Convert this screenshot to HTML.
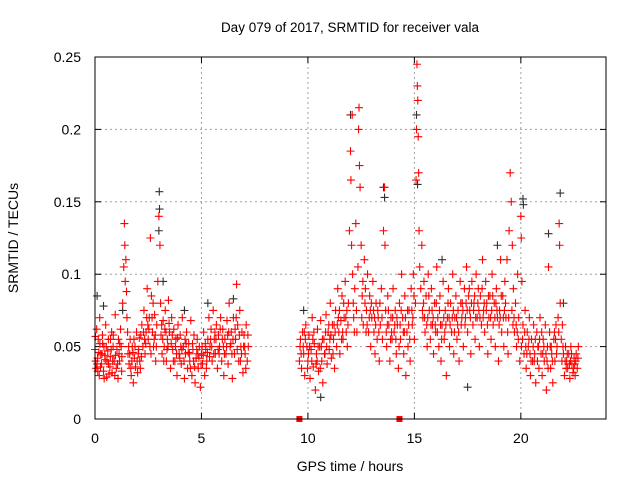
<!DOCTYPE html>
<html><head><meta charset="utf-8"><style>
body{margin:0;background:#fff}
svg{display:block;font-family:"Liberation Sans",sans-serif}
</style></head><body>
<svg id="chart" width="640" height="480" xmlns="http://www.w3.org/2000/svg">
<rect width="640" height="480" fill="#fff"/>
<text x="350" y="32" font-size="13.5" text-anchor="middle">Day 079 of 2017, SRMTID for receiver vala</text>
<text x="350" y="471" font-size="14" text-anchor="middle">GPS time / hours</text>
<text transform="translate(18,238) rotate(-90)" font-size="14" text-anchor="middle">SRMTID / TECUs</text>
<g id="grid"></g>
<g id="axes"></g>
<g id="black"></g>
<g id="red"></g>
<rect x="95" y="57" width="511" height="362" fill="none" stroke="#000" stroke-width="1"/>
</svg>
<script>
const xTicks=[0,5,10,15,20];
const yTicks=[0,0.05,0.1,0.15,0.2,0.25];
const yTickLabels=["0","0.05","0.1","0.15","0.2","0.25"];
const blackPoints=[[0.1,.085],[0.4,.078],[1.3,.075],[3.02,.157],[3.03,.145],[3.0,.13],[3.2,.095],[4.2,.075],[5.3,.08],[6.5,.083],[9.8,.075],[10.6,.015],[12.0,.21],[13.55,.16],[13.6,.153],[15.1,.21],[15.15,.162],[16.3,.11],[17.5,.022],[18.9,.12],[20.1,.152],[20.12,.148],[21.3,.128],[21.85,.156],[22.0,.08]];
const redPoints=[[0,.048],[.05,.035],[.08,.062],[.12,.042],[.15,.055],[.2,.03],[.22,.07],[.27,.045],[.3,.038],[.35,.058],[.4,.033],[.42,.05],[.48,.041],[.5,.065],[.55,.029],[.6,.047],[.63,.055],[.7,.036],[.72,.043],[.78,.06],[.8,.032],[.85,.05],[.9,.04],[.95,.072],[1,.035],[1.03,.048],[1.08,.028],[1.1,.055],[1.15,.04],[1.2,.062],[1.25,.033],[1.3,.08],[1.35,.105],[1.38,.135],[1.4,.12],[1.42,.095],[1.45,.11],[1.48,.088],[1.5,.07],[1.55,.045],[1.6,.038],[1.65,.055],[1.7,.03],[1.75,.05],[1.8,.025],[1.85,.042],[1.9,.036],[1.95,.06],[2,.032],[2.05,.048],[2.1,.04],[2.15,.058],[2.2,.065],[2.25,.05],[2.3,.075],[2.35,.045],[2.4,.06],[2.45,.09],[2.5,.055],[2.55,.07],[2.6,.125],[2.65,.085],[2.7,.06],[2.75,.05],[2.8,.072],[2.85,.04],[2.9,.065],[2.95,.095],[3,.14],[3.05,.12],[3.08,.08],[3.1,.058],[3.15,.045],[3.2,.068],[3.25,.05],[3.3,.075],[3.35,.04],[3.4,.055],[3.45,.082],[3.5,.06],[3.55,.035],[3.6,.07],[3.65,.048],[3.7,.062],[3.75,.04],[3.8,.055],[3.85,.03],[3.9,.065],[3.95,.045],[4,.058],[4.05,.038],[4.1,.07],[4.15,.05],[4.2,.028],[4.25,.045],[4.3,.06],[4.35,.035],[4.4,.052],[4.45,.04],[4.5,.068],[4.55,.03],[4.6,.048],[4.65,.058],[4.7,.025],[4.75,.042],[4.8,.055],[4.85,.035],[4.9,.05],[4.95,.022],[5,.045],[5.05,.038],[5.1,.06],[5.15,.03],[5.2,.048],[5.25,.04],[5.3,.055],[5.35,.07],[5.4,.05],[5.45,.062],[5.5,.04],[5.55,.075],[5.6,.055],[5.65,.045],[5.7,.065],[5.75,.035],[5.8,.058],[5.85,.05],[5.9,.07],[5.95,.04],[6,.062],[6.05,.03],[6.1,.055],[6.15,.045],[6.2,.068],[6.25,.038],[6.3,.08],[6.35,.05],[6.4,.06],[6.45,.028],[6.5,.07],[6.55,.045],[6.6,.055],[6.65,.093],[6.7,.065],[6.75,.04],[6.8,.075],[6.85,.05],[6.9,.06],[6.95,.032],[7,.058],[7.05,.045],[7.1,.065],[7.15,.04],[7.2,.05],
[9.6,.04],[9.65,.055],[9.7,.035],[9.75,.06],[9.8,.045],[9.85,.03],[9.9,.065],[9.95,.05],[10,.04],[10.05,.058],[10.1,.028],[10.15,.048],[10.2,.07],[10.25,.036],[10.3,.052],[10.35,.02],[10.4,.045],[10.45,.062],[10.5,.033],[10.55,.05],[10.6,.068],[10.65,.04],[10.7,.025],[10.75,.055],[10.8,.045],[10.85,.072],[10.9,.038],[10.95,.06],[11,.048],[11.05,.08],[11.1,.042],[11.15,.065],[11.2,.055],[11.25,.035],[11.3,.075],[11.35,.05],[11.4,.09],[11.45,.06],[11.5,.045],[11.55,.068],[11.6,.085],[11.65,.055],[11.7,.07],[11.75,.095],[11.8,.06],[11.85,.05],[11.9,.08],[11.95,.13],[12,.185],[12.02,.165],[12.05,.12],[12.08,.21],[12.1,.1],[12.15,.07],[12.2,.09],[12.25,.135],[12.3,.06],[12.35,.105],[12.38,.2],[12.4,.215],[12.42,.175],[12.45,.16],[12.5,.12],[12.55,.085],[12.6,.065],[12.65,.11],[12.7,.09],[12.75,.075],[12.8,.1],[12.85,.06],[12.9,.085],[12.95,.05],[13,.07],[13.05,.095],[13.1,.06],[13.15,.045],[13.2,.08],[13.25,.055],[13.3,.07],[13.35,.04],[13.4,.065],[13.45,.09],[13.5,.055],[13.55,.13],[13.6,.16],[13.62,.12],[13.65,.075],[13.7,.05],[13.75,.085],[13.8,.065],[13.85,.04],[13.9,.07],[13.95,.055],[14,.09],[14.05,.06],[14.1,.075],[14.15,.045],[14.2,.065],[14.25,.035],[14.3,.08],[14.35,.055],[14.4,.1],[14.45,.07],[14.5,.045],[14.55,.085],[14.6,.03],[14.65,.06],[14.7,.05],[14.75,.075],[14.8,.04],[14.85,.09],[14.9,.065],[14.95,.1],[15,.055],[15.05,.08],[15.08,.165],[15.1,.2],[15.12,.245],[15.14,.23],[15.16,.22],[15.18,.195],[15.2,.17],[15.22,.13],[15.25,.105],[15.3,.09],[15.35,.12],[15.4,.07],[15.45,.095],[15.5,.06],[15.55,.085],[15.6,.05],[15.65,.1],[15.7,.075],[15.75,.055],[15.8,.09],[15.85,.065],[15.9,.045],[15.95,.08],[16,.06],[16.05,.105],[16.1,.07],[16.15,.05],[16.2,.085],[16.25,.04],[16.3,.065],[16.35,.095],[16.4,.055],[16.45,.075],[16.5,.03],[16.55,.07],[16.6,.09],[16.65,.05],[16.7,.08],[16.75,.06],[16.8,.1],[16.85,.045],[16.9,.07],[16.95,.085],[17,.055],[17.05,.075],[17.1,.04],[17.15,.095],[17.2,.065],[17.25,.08],[17.3,.05],[17.35,.09],[17.4,.07],[17.45,.105],[17.5,.06],[17.55,.085],[17.6,.075],[17.65,.045],[17.7,.095],[17.75,.065],[17.8,.08],[17.85,.055],[17.9,.1],[17.95,.07],[18,.09],[18.05,.05],[18.1,.085],[18.15,.065],[18.2,.11],[18.25,.075],[18.3,.06],[18.35,.095],[18.4,.08],[18.45,.045],[18.5,.07],[18.55,.085],[18.6,.055],[18.65,.1],[18.7,.065],[18.75,.08],[18.8,.05],[18.85,.09],[18.9,.07],[18.95,.04],[19,.075],[19.05,.11],[19.1,.06],[19.15,.085],[19.2,.05],[19.25,.095],[19.3,.07],[19.35,.11],[19.4,.045],[19.45,.13],[19.5,.17],[19.55,.15],[19.6,.12],[19.65,.09],[19.7,.06],[19.75,.08],[19.8,.05],[19.85,.1],[19.9,.07],[19.95,.04],[20,.14],[20.02,.125],[20.05,.095],[20.1,.065],[20.15,.045],[20.2,.075],[20.25,.035],[20.3,.06],[20.35,.05],[20.4,.07],[20.45,.03],[20.5,.055],[20.55,.04],[20.6,.065],[20.65,.045],[20.7,.025],[20.75,.06],[20.8,.05],[20.85,.035],[20.9,.07],[20.95,.045],[21,.03],[21.05,.055],[21.1,.04],[21.15,.065],[21.2,.02],[21.25,.05],[21.3,.105],[21.35,.06],[21.4,.035],[21.45,.045],[21.5,.025],[21.55,.055],[21.6,.04],[21.65,.065],[21.7,.05],[21.75,.07],[21.8,.135],[21.82,.12],[21.85,.08],[21.9,.055],[21.95,.065],[22,.045],[22.05,.03],[22.1,.05],[22.15,.04],[22.2,.035],[22.25,.045],[22.3,.028],[22.35,.05],[22.4,.038],[22.45,.032],[22.5,.042],[22.55,.03],[22.6,.045],[22.65,.035],[22.7,.05]];
const redExtra=[[.03,.04],[.13,.033],[.23,.052],[.33,.045],[.43,.028],[.53,.05],[.63,.038],[.73,.055],[.83,.04],[.93,.03],[1.13,.045],[1.23,.05],[1.53,.06],[1.63,.045],[1.73,.04],[1.83,.055],[2.03,.045],[2.13,.035],[2.33,.055],[2.43,.07],[2.53,.062],[2.63,.045],[2.73,.08],[2.83,.058],[3.13,.065],[3.23,.04],[3.33,.06],[3.43,.05],[3.63,.058],[3.83,.045],[4.03,.05],[4.23,.055],[4.43,.045],[4.63,.04],[4.83,.045],[5.03,.05],[5.23,.035],[5.43,.055],[5.63,.06],[5.83,.045],[6.03,.05],[6.23,.058],[6.43,.045],[6.63,.07],[6.83,.04],[7.03,.05],[9.63,.05],[9.83,.06],[10.03,.045],[10.23,.055],[10.43,.04],[10.63,.05],[10.83,.06],[11.03,.055],[11.23,.065],[11.43,.07],[11.63,.06],[11.83,.075],[12.13,.08],[12.53,.07],[12.73,.06],[12.93,.075],[13.13,.07],[13.33,.06],[13.73,.065],[13.93,.06],[14.13,.055],[14.33,.065],[14.53,.06],[14.73,.065],[14.93,.07],[15.43,.08],[15.63,.07],[15.83,.075],[16.03,.08],[16.23,.065],[16.43,.06],[16.63,.07],[16.83,.075],[17.03,.065],[17.23,.07],[17.43,.08],[17.63,.07],[17.83,.085],[18.03,.075],[18.23,.07],[18.43,.065],[18.63,.075],[18.83,.08],[19.03,.07],[19.23,.075],[19.43,.07],[19.63,.065],[19.83,.06],[20.03,.05],[20.23,.05],[20.43,.045],[20.63,.04],[20.83,.05],[21.03,.045],[21.23,.04],[21.43,.05],[21.63,.055],[21.93,.04],[22.13,.035],[22.33,.04],[22.53,.038]];
const redExtra2=[[.02,.057],[.1,.038],[.18,.046],[.26,.036],[.36,.052],[.46,.044],[.56,.04],[.66,.031],[.76,.048],[.86,.058],[.96,.044],[1.06,.038],[1.16,.052],[1.26,.043],[1.58,.05],[1.68,.035],[1.78,.046],[1.88,.05],[1.98,.04],[2.08,.056],[2.18,.043],[2.28,.06],[2.38,.052],[2.48,.065],[2.58,.05],[2.68,.07],[2.78,.055],[2.88,.05],[3.18,.055],[3.28,.062],[3.38,.048],[3.48,.066],[3.58,.052],[3.68,.04],[3.78,.05],[3.88,.056],[3.98,.042],[4.08,.048],[4.18,.04],[4.28,.052],[4.38,.046],[4.48,.035],[4.58,.052],[4.68,.036],[4.78,.048],[4.88,.042],[4.98,.038],[5.08,.044],[5.18,.052],[5.28,.046],[5.38,.043],[5.48,.05],[5.58,.045],[5.68,.055],[5.78,.048],[5.88,.062],[5.98,.055],[6.08,.045],[6.18,.05],[6.28,.06],[6.38,.052],[6.48,.055],[6.58,.062],[6.68,.048],[6.78,.058],[6.88,.045],[6.98,.05],[7.08,.035],[7.18,.058],
[9.68,.045],[9.78,.05],[9.88,.055],[9.98,.035],[10.08,.05],[10.18,.04],[10.28,.06],[10.38,.038],[10.48,.05],[10.58,.035],[10.68,.055],[10.78,.045],[10.88,.05],[10.98,.065],[11.08,.058],[11.18,.045],[11.28,.06],[11.38,.065],[11.48,.075],[11.58,.055],[11.68,.08],[11.78,.07],[11.88,.065],[12.18,.06],[12.28,.075],[12.58,.095],[12.68,.08],[12.78,.065],[12.88,.07],[12.98,.08],[13.08,.075],[13.18,.065],[13.28,.075],[13.38,.08],[13.48,.07],[13.68,.06],[13.78,.075],[13.88,.055],[13.98,.07],[14.08,.065],[14.18,.07],[14.28,.05],[14.38,.075],[14.48,.06],[14.58,.07],[14.68,.075],[14.78,.055],[14.88,.075],[14.98,.085],[15.38,.075],[15.48,.07],[15.58,.065],[15.68,.085],[15.78,.065],[15.88,.07],[15.98,.065],[16.08,.06],[16.18,.075],[16.28,.055],[16.38,.07],[16.48,.065],[16.58,.08],[16.68,.065],[16.78,.07],[16.88,.06],[16.98,.07],[17.08,.06],[17.18,.08],[17.28,.075],[17.38,.065],[17.48,.075],[17.58,.09],[17.68,.08],[17.78,.075],[17.88,.07],[17.98,.08],[18.08,.07],[18.18,.09],[18.28,.08],[18.38,.075],[18.48,.085],[18.58,.07],[18.68,.085],[18.78,.07],[18.88,.075],[18.98,.065],[19.08,.085],[19.18,.07],[19.28,.08],[19.38,.06],[19.58,.075],[19.68,.07],[19.78,.065],[19.88,.055],[20.08,.055],[20.18,.06],[20.28,.045],[20.38,.055],[20.48,.04],[20.58,.05],[20.68,.055],[20.78,.04],[20.88,.055],[20.98,.06],[21.08,.05],[21.18,.045],[21.28,.035],[21.38,.05],[21.48,.04],[21.58,.06],[21.68,.045],[21.78,.06],[21.98,.05],[22.08,.04],[22.18,.045],[22.28,.038],[22.38,.045],[22.48,.035],[22.58,.04],[22.68,.042]];
const zeroPoints=[[9.6,0],[14.3,0]];

const NS="http://www.w3.org/2000/svg";
const X0=95,X1=606,Y0=419,Y1=57,XMAX=24,YMAX=0.25;
function sx(t){return X0+(X1-X0)*t/XMAX;}
function sy(v){return Y0-(Y0-Y1)*v/YMAX;}
function mk(tag,attrs,parent){const e=document.createElementNS(NS,tag);for(const k in attrs)e.setAttribute(k,attrs[k]);parent.appendChild(e);return e;}
const grid=document.getElementById('grid'),axes=document.getElementById('axes');
xTicks.forEach(t=>{
  const x=sx(t);
  if(t>0){const g=mk('line',{x1:x,x2:x,y1:Y1,y2:Y0,stroke:'#a0a0a0','stroke-dasharray':'2,3'},grid);
  
  }
  mk('line',{x1:x,x2:x,y1:Y0,y2:Y0-6,stroke:'#000'},axes);
  mk('line',{x1:x,x2:x,y1:Y1,y2:Y1+6,stroke:'#000'},axes);
  const l=mk('text',{x:x,y:443,'font-size':'14','text-anchor':'middle'},axes);
  l.textContent=String(t);
  
  
});
yTicks.forEach((v,i)=>{
  const y=sy(v);
  if(v>0&&v<YMAX){const g=mk('line',{x1:X0,x2:X1,y1:y,y2:y,stroke:'#a0a0a0','stroke-dasharray':'2,3'},grid);
  
  }
  mk('line',{x1:X0,x2:X0+6,y1:y,y2:y,stroke:'#000'},axes);
  mk('line',{x1:X1,x2:X1-6,y1:y,y2:y,stroke:'#000'},axes);
  const l=mk('text',{x:81,y:y+5,'font-size':'14','text-anchor':'end'},axes);
  l.textContent=yTickLabels[i];
  
  
});
function plus(g,p,col){
  const x=sx(p[0]),y=sy(p[1]);
  const e=mk('path',{d:`M${x-4} ${y}h8M${x} ${y-4}v8`,stroke:col,'stroke-width':'1.1',fill:'none'},g);
  
  
}
const gb=document.getElementById('black'),gr=document.getElementById('red');
blackPoints.forEach(p=>plus(gb,p,'#303030'));
redExtra2.forEach(p=>plus(gr,p,'#ff0000'));
redExtra.forEach(p=>plus(gr,p,'#ff0000'));
redPoints.forEach(p=>plus(gr,p,'#ff0000'));
zeroPoints.forEach(p=>{
  const r=mk('rect',{x:sx(p[0])-3,y:sy(p[1])-3,width:6,height:6,fill:'#ff0000'},gr);
  
  
});
</script>
</body></html>
